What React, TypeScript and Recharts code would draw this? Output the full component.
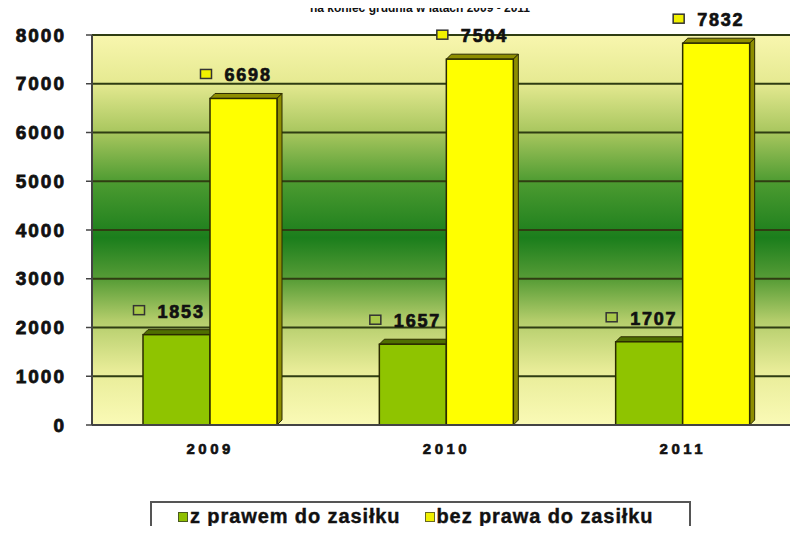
import { BarChart, Bar, XAxis, YAxis, CartesianGrid, LabelList } from "recharts";

const years = ["2009", "2010", "2011"];
const withBenefit = [1853, 1657, 1707];
const withoutBenefit = [6698, 7504, 7832];
const yTicks = [0, 1000, 2000, 3000, 4000, 5000, 6000, 7000, 8000];

const data = years.map((year, i) => ({
  year,
  z: withBenefit[i],
  bez: withoutBenefit[i],
}));

const FONT = "'Liberation Sans', Arial, sans-serif";

const makeBar = (side: string) => (props: any) => {
  const { x, y, width, height, fill } = props;
  const d = 5;
  return (
    <g>
      <polygon
        points={`${x},${y} ${x + d},${y - d} ${x + width + d},${y - d} ${x + width},${y}`}
        fill={side}
        stroke="#2b2b00"
        strokeWidth={1}
      />
      <polygon
        points={`${x + width},${y} ${x + width + d},${y - d} ${x + width + d},${y + height - d} ${x + width},${y + height}`}
        fill={side}
        stroke="#2b2b00"
        strokeWidth={1}
      />
      <rect x={x} y={y} width={width} height={height} fill={fill} stroke="#2b2b00" strokeWidth={1.5} />
    </g>
  );
};

const makeLabel = (color: string) => (props: any) => {
  const { x, y, width, value } = props;
  const cx = x + width / 2;
  const ty = y - 17;
  return (
    <g>
      <rect x={cx - 43} y={ty - 12} width={11} height={9} fill={color} stroke="#333" strokeWidth={1.5} />
      <text
        x={cx - 19}
        y={ty}
        fontFamily={FONT}
        fontWeight="bold"
        fontSize={18}
        letterSpacing={1.8}
        stroke="#111"
        strokeWidth={0.7}
        fill="#111"
      >
        {value}
      </text>
    </g>
  );
};

const LegendBox = () => (
  <div
    style={{
      position: "absolute",
      left: 150,
      top: 501,
      width: 541,
      height: 40,
      border: "2px solid #555",
      background: "#fff",
      display: "flex",
      alignItems: "flex-start",
      paddingTop: 2,
      paddingLeft: 26,
      boxSizing: "border-box",
      fontFamily: FONT,
      fontWeight: "bold",
      fontSize: 20,
      letterSpacing: 0.9,
      color: "#111",
      WebkitTextStroke: "0.4px #111",
    }}
  >
    <span style={{ display: "flex", alignItems: "center", marginRight: 24 }}>
      <span style={{ width: 8, height: 8, background: "#8fbf00", border: "1.5px solid #4a5a20", marginRight: 2 }} />
      z prawem do zasiłku
    </span>
    <span style={{ display: "flex", alignItems: "center" }}>
      <span style={{ width: 8, height: 8, background: "#f0f000", border: "1.5px solid #6a6a20", marginRight: 2 }} />
      bez prawa do zasiłku
    </span>
  </div>
);

export default function App() {
  return (
    <div style={{ margin: -8, width: 798, height: 534, background: "#fff", position: "relative", overflow: "hidden" }}>
      <BarChart
        width={798}
        height={534}
        data={data}
        margin={{ top: 35, right: -3, bottom: 79, left: 0 }}
        barGap={0}
      >
        <defs>
          <linearGradient id="bg" x1="0" y1="0" x2="0" y2="1">
            <stop offset="0%" stopColor="#f8f6ae" />
            <stop offset="12%" stopColor="#e6ea92" />
            <stop offset="25%" stopColor="#a8c65e" />
            <stop offset="38%" stopColor="#4b9a30" />
            <stop offset="52%" stopColor="#1b7e1c" />
            <stop offset="63%" stopColor="#5a9e38" />
            <stop offset="73%" stopColor="#b2cc6a" />
            <stop offset="86%" stopColor="#e8ec98" />
            <stop offset="100%" stopColor="#fafab6" />
          </linearGradient>
        </defs>
        <text x={420} y={12} textAnchor="middle" fontFamily={FONT} fontWeight="bold" fontSize={12} fill="#111">
          na koniec grudnia w latach 2009 - 2011
        </text>
        <CartesianGrid vertical={false} fill="url(#bg)" stroke="#2f3d12" strokeWidth={2} />
        <XAxis
          dataKey="year"
          height={30}
          tickLine={false}
          axisLine={{ stroke: "#444", strokeWidth: 2 }}
          tick={{ fontFamily: FONT, fontWeight: "bold", fontSize: 15, fill: "#111", letterSpacing: 3.5, stroke: "#111", strokeWidth: 0.6 }}
          tickMargin={12}
        />
        <YAxis
          width={92}
          domain={[0, 8000]}
          ticks={yTicks}
          interval={0}
          axisLine={{ stroke: "#444", strokeWidth: 2 }}
          tickLine={{ stroke: "#444", strokeWidth: 1.5 }}
          tickSize={6}
          tickMargin={20}
          tick={{ fontFamily: FONT, fontWeight: "bold", fontSize: 19, fill: "#111", letterSpacing: 2, stroke: "#111", strokeWidth: 0.8 }}
        />
        <Bar dataKey="z" barSize={67} fill="#8fc400" shape={makeBar("#4f6e00")} isAnimationActive={false}>
          <LabelList dataKey="z" content={makeLabel("#a8c84a")} />
        </Bar>
        <Bar dataKey="bez" barSize={67} fill="#ffff00" shape={makeBar("#8e8e00")} isAnimationActive={false}>
          <LabelList dataKey="bez" content={makeLabel("#f0f000")} />
        </Bar>
      </BarChart>
      <LegendBox />
    </div>
  );
}
